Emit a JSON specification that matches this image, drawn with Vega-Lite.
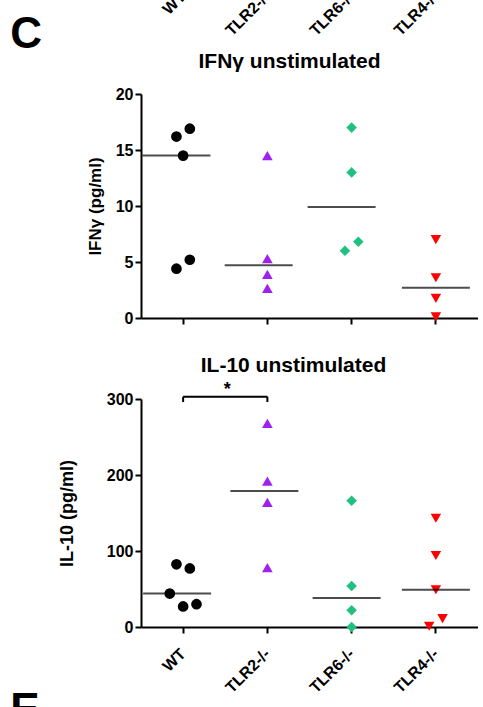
{
  "$schema": "https://vega.github.io/schema/vega-lite/v6.json",
  "padding": {"left": 10, "top": -12, "right": 0, "bottom": 0},
  "spacing": 28,
  "title": {"text": "C", "anchor": "start", "fontSize": 44, "fontWeight": "bold", "font": "Liberation Sans", "color": "black", "offset": -68, "frame": "bounds"},
  "config": {
    "font": "Liberation Sans",
    "view": {"stroke": null},
    "axis": {"labelFont": "Liberation Sans", "labelFontSize": 16, "labelFontWeight": "bold", "labelColor": "black", "titleFont": "Liberation Sans", "titleFontSize": 17, "titleFontWeight": "bold", "titleColor": "black", "domainColor": "black", "domainWidth": 2, "tickColor": "black", "tickWidth": 2, "tickSize": 6, "grid": false, "labelPadding": 2},
    "title": {"font": "Liberation Sans", "fontSize": 21, "fontWeight": "bold", "color": "black"}
  },
  "datasets": {
    "ifn": [
      {"group": "WT", "value": 16.2, "off": -1}, {"group": "WT", "value": 16.9, "off": 1}, {"group": "WT", "value": 14.5, "off": 0}, {"group": "WT", "value": 4.4, "off": -1}, {"group": "WT", "value": 5.2, "off": 1},
      {"group": "TLR2-/-", "value": 14.5, "off": 0}, {"group": "TLR2-/-", "value": 5.3, "off": 0}, {"group": "TLR2-/-", "value": 3.9, "off": 0}, {"group": "TLR2-/-", "value": 2.65, "off": 0},
      {"group": "TLR6-/-", "value": 17.0, "off": 0}, {"group": "TLR6-/-", "value": 13.0, "off": 0}, {"group": "TLR6-/-", "value": 6.8, "off": 1}, {"group": "TLR6-/-", "value": 6.0, "off": -1},
      {"group": "TLR4-/-", "value": 7.0, "off": 0}, {"group": "TLR4-/-", "value": 3.6, "off": 0}, {"group": "TLR4-/-", "value": 1.75, "off": 0}, {"group": "TLR4-/-", "value": 0.1, "off": 0}
    ],
    "ifnMean": [
      {"group": "WT", "mean": 14.5, "off": -1}, {"group": "TLR2-/-", "mean": 4.7, "off": -1.3}, {"group": "TLR6-/-", "mean": 9.9, "off": -1.5}, {"group": "TLR4-/-", "mean": 2.7, "off": 0}
    ],
    "il10": [
      {"group": "WT", "value": 82.5, "off": -1}, {"group": "WT", "value": 77, "off": 1}, {"group": "WT", "value": 44, "off": -2}, {"group": "WT", "value": 27, "off": 0}, {"group": "WT", "value": 30, "off": 2},
      {"group": "TLR2-/-", "value": 268, "off": 0}, {"group": "TLR2-/-", "value": 192, "off": 0}, {"group": "TLR2-/-", "value": 164, "off": 0}, {"group": "TLR2-/-", "value": 78, "off": 0},
      {"group": "TLR6-/-", "value": 166, "off": 0}, {"group": "TLR6-/-", "value": 54, "off": 0}, {"group": "TLR6-/-", "value": 22, "off": 0}, {"group": "TLR6-/-", "value": 0, "off": 0},
      {"group": "TLR4-/-", "value": 143, "off": 0}, {"group": "TLR4-/-", "value": 94, "off": 0}, {"group": "TLR4-/-", "value": 49, "off": 0}, {"group": "TLR4-/-", "value": 11, "off": 1}, {"group": "TLR4-/-", "value": 1, "off": -1}
    ],
    "il10Mean": [
      {"group": "WT", "mean": 44, "off": -0.9}, {"group": "TLR2-/-", "mean": 179, "off": -0.45}, {"group": "TLR6-/-", "mean": 38, "off": -0.75}, {"group": "TLR4-/-", "mean": 49, "off": 0}
    ],
    "groups": [
      {"group": "WT"}, {"group": "TLR2-/-"}, {"group": "TLR6-/-"}, {"group": "TLR4-/-"}
    ],
    "sig": [
      {"from": "WT", "to": "TLR2-/-", "y": 303, "ylow": 296, "label": "*"}
    ]
  },
  "vconcat": [
    {
      "width": 337,
      "height": 224,
      "title": {"text": "IFNγ unstimulated", "offset": -83, "frame": "group", "dx": -20},
      "layer": [
        {
          "data": {"name": "ifn"},
          "mark": {"type": "point", "filled": true, "opacity": 1},
          "encoding": {
            "x": {"field": "group", "type": "nominal", "scale": {"type": "band", "paddingInner": 0, "paddingOuter": 0, "domain": ["WT", "TLR2-/-", "TLR6-/-", "TLR4-/-"]}, "axis": {"title": null, "labels": false}},
            "xOffset": {"field": "off", "type": "quantitative", "scale": {"domain": [-6.3, 6.3]}},
            "y": {"field": "value", "type": "quantitative", "scale": {"domain": [0, 20]}, "axis": {"title": "IFNγ (pg/ml)", "values": [0, 5, 10, 15, 20], "titlePadding": 11}},
            "color": {"field": "group", "type": "nominal", "scale": {"domain": ["WT", "TLR2-/-", "TLR6-/-", "TLR4-/-"], "range": ["#000000", "#A020F0", "#20C080", "#FF0000"]}, "legend": null},
            "shape": {"field": "group", "type": "nominal", "scale": {"domain": ["WT", "TLR2-/-", "TLR6-/-", "TLR4-/-"], "range": ["circle", "triangle-up", "diamond", "triangle-down"]}, "legend": null},
            "size": {"field": "group", "type": "nominal", "scale": {"domain": ["WT", "TLR2-/-", "TLR6-/-", "TLR4-/-"], "range": [115, 110, 165, 110]}, "legend": null}
          }
        },
        {
          "data": {"name": "ifnMean"},
          "mark": {"type": "tick", "color": "black", "size": 68, "thickness": 2},
          "encoding": {
            "x": {"field": "group", "type": "nominal"},
            "xOffset": {"field": "off", "type": "quantitative"},
            "y": {"field": "mean", "type": "quantitative"}
          }
        },
        {
          "data": {"name": "groups"},
          "mark": {"type": "text", "angle": -45, "align": "right", "baseline": "middle", "fontSize": 16, "fontWeight": "bold", "font": "Liberation Sans", "color": "black"},
          "encoding": {
            "x": {"field": "group", "type": "nominal"},
            "y": {"datum": 28.9},
            "text": {"field": "group"}
          }
        }
      ]
    },
    {
      "title": {"text": "E", "orient": "bottom", "anchor": "start", "fontSize": 44, "fontWeight": "bold", "font": "Liberation Sans", "color": "black", "dx": -48, "offset": -7, "frame": "bounds"},
      "vconcat": [
        {
          "width": 337,
          "height": 228,
          "title": {"text": "IL-10 unstimulated", "offset": 5, "frame": "group", "dx": -16},
          "layer": [
            {
              "data": {"name": "il10"},
              "mark": {"type": "point", "filled": true, "opacity": 1},
              "encoding": {
                "x": {"field": "group", "type": "nominal", "scale": {"type": "band", "paddingInner": 0, "paddingOuter": 0, "domain": ["WT", "TLR2-/-", "TLR6-/-", "TLR4-/-"]}, "axis": {"title": null, "labelAngle": -45, "labelAlign": "right", "labelBaseline": "middle", "labelPadding": 18}},
                "xOffset": {"field": "off", "type": "quantitative", "scale": {"domain": [-6.3, 6.3]}},
                "y": {"field": "value", "type": "quantitative", "scale": {"domain": [0, 300]}, "axis": {"title": "IL-10 (pg/ml)", "values": [0, 100, 200, 300], "titlePadding": 30, "titleFontSize": 18}},
                "color": {"field": "group", "type": "nominal", "scale": {"domain": ["WT", "TLR2-/-", "TLR6-/-", "TLR4-/-"], "range": ["#000000", "#A020F0", "#20C080", "#FF0000"]}, "legend": null},
                "shape": {"field": "group", "type": "nominal", "scale": {"domain": ["WT", "TLR2-/-", "TLR6-/-", "TLR4-/-"], "range": ["circle", "triangle-up", "diamond", "triangle-down"]}, "legend": null},
                "size": {"field": "group", "type": "nominal", "scale": {"domain": ["WT", "TLR2-/-", "TLR6-/-", "TLR4-/-"], "range": [115, 110, 165, 110]}, "legend": null}
              }
            },
            {
              "data": {"name": "il10Mean"},
              "mark": {"type": "tick", "color": "black", "size": 68, "thickness": 2},
              "encoding": {
                "x": {"field": "group", "type": "nominal"},
                "xOffset": {"field": "off", "type": "quantitative"},
                "y": {"field": "mean", "type": "quantitative"}
              }
            },
            {
              "data": {"name": "sig"},
              "mark": {"type": "rule", "color": "black", "strokeWidth": 2},
              "encoding": {
                "x": {"field": "from", "type": "nominal"},
                "x2": {"field": "to"},
                "y": {"field": "y", "type": "quantitative"}
              }
            },
            {
              "data": {"name": "sig"},
              "mark": {"type": "rule", "color": "black", "strokeWidth": 2},
              "encoding": {
                "x": {"field": "from", "type": "nominal"},
                "y": {"field": "y", "type": "quantitative"},
                "y2": {"field": "ylow"}
              }
            },
            {
              "data": {"name": "sig"},
              "mark": {"type": "rule", "color": "black", "strokeWidth": 2},
              "encoding": {
                "x": {"field": "to", "type": "nominal"},
                "y": {"field": "y", "type": "quantitative"},
                "y2": {"field": "ylow"}
              }
            },
            {
              "data": {"name": "sig"},
              "mark": {"type": "text", "fontSize": 18, "fontWeight": "bold", "font": "Liberation Sans", "color": "black", "baseline": "middle", "dx": 44},
              "encoding": {
                "x": {"field": "from", "type": "nominal"},
                "y": {"datum": 312},
                "text": {"field": "label"}
              }
            }
          ]
        }
      ]
    }
  ]
}
